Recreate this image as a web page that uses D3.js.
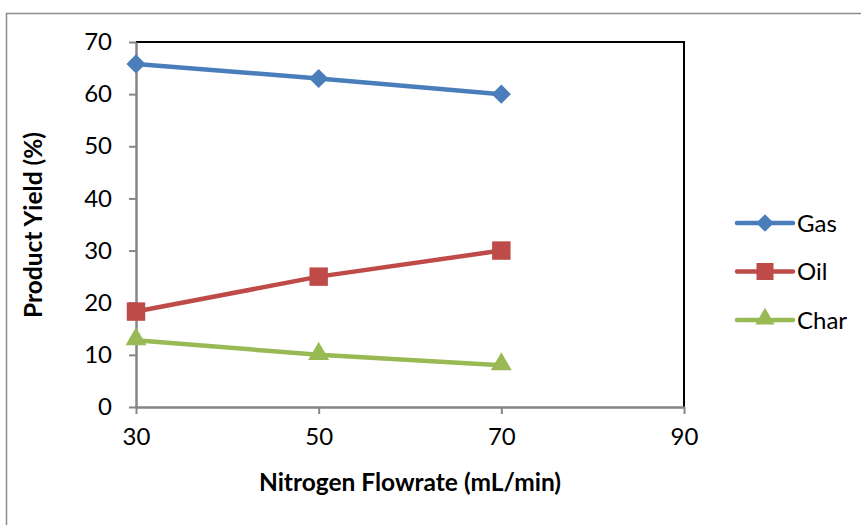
<!DOCTYPE html>
<html><head><meta charset="utf-8">
<script src="https://cdn.jsdelivr.net/npm/d3@7/dist/d3.min.js"></script>
<style>body{margin:0;background:#fff}svg{display:block}text{font-family:Lato,"Open Sans",sans-serif}</style>
</head><body><svg id="c" width="861" height="525"></svg>
<script>
const flowrates = [30, 50, 70];
const gas = [65.8, 63, 60];
const oil = [18.3, 25, 30];
const charV = [12.8, 10, 8];
const xTicks = [30, 50, 70, 90];
const yTicks = [0, 10, 20, 30, 40, 50, 60, 70];
const seriesNames = ["Gas", "Oil", "Char"];
const seriesColors = ["#4a7ebb", "#be4b48", "#98b954"];
const seriesSymbols = [d3.symbolSquare, d3.symbolSquare, d3.symbolTriangle];
const seriesRot = [45, 0, 0];
const seriesValues = [gas, oil, charV];

const svg = d3.select("#c");
svg.append("rect").attr("x",6.5).attr("y",13.5).attr("width",870).attr("height",540)
  .attr("fill","none").attr("stroke","#8c8c8c").attr("stroke-width",1.5);

const L=136, R=684, T=42, B=407;
const x = d3.scaleLinear().domain([30,90]).range([L,R]);
const y = d3.scaleLinear().domain([0,70]).range([B,T]);

svg.append("path").attr("d",`M${L},${T}H${R}V${B}`).attr("fill","none").attr("stroke","#000").attr("stroke-width",2);

const ya = svg.append("g").attr("transform",`translate(${L},0)`)
  .call(d3.axisLeft(y).tickValues(yTicks).tickSize(7).tickPadding(17).tickSizeOuter(0));
const xa = svg.append("g").attr("transform",`translate(0,${B})`)
  .call(d3.axisBottom(x).tickValues(xTicks).tickSize(7).tickPadding(14).tickSizeOuter(0));
[ya,xa].forEach(g=>{
  g.select(".domain").attr("stroke","#868686").attr("stroke-width",2.5);
  g.selectAll(".tick line").attr("stroke","#868686").attr("stroke-width",2);
  g.selectAll(".tick text").attr("fill","#000").style("font-size","24px").style("font-family","Lato, sans-serif");
});

const sizes=[185,340,190];
seriesValues.forEach((vals,i)=>{
  const pts = flowrates.map((f,j)=>[x(f),y(vals[j])]);
  svg.append("path").attr("d",d3.line()(pts)).attr("fill","none")
    .attr("stroke",seriesColors[i]).attr("stroke-width",4.5);
  svg.selectAll(null).data(pts).enter().append("path")
    .attr("transform",d=>`translate(${d[0]},${d[1]+(i===2?-1:0)}) rotate(${seriesRot[i]})`)
    .attr("d",d3.symbol().type(seriesSymbols[i]).size(sizes[i]))
    .attr("fill",seriesColors[i]);
  const ly = 223 + i*48.5;
  svg.append("line").attr("x1",737).attr("x2",793).attr("y1",ly).attr("y2",ly)
    .attr("stroke",seriesColors[i]).attr("stroke-width",4.5).attr("stroke-linecap","round");
  svg.append("path").attr("transform",`translate(765,${ly+(i===2?-1:0)}) rotate(${seriesRot[i]})`)
    .attr("d",d3.symbol().type(seriesSymbols[i]).size(sizes[i]*0.85)).attr("fill",seriesColors[i]);
  svg.append("text").attr("x",797).attr("y",ly).attr("dy","0.36em")
    .style("font-size","24px").text(seriesNames[i]);
});

svg.append("text").attr("x",410).attr("y",491).attr("text-anchor","middle")
  .style("font-size","24.5px").style("font-weight","bold").text("Nitrogen Flowrate (mL/min)");
svg.append("text").attr("transform","translate(42,225) rotate(-90)").attr("text-anchor","middle")
  .style("font-size","24.5px").style("font-weight","bold").text("Product Yield (%)");
</script></body></html>
